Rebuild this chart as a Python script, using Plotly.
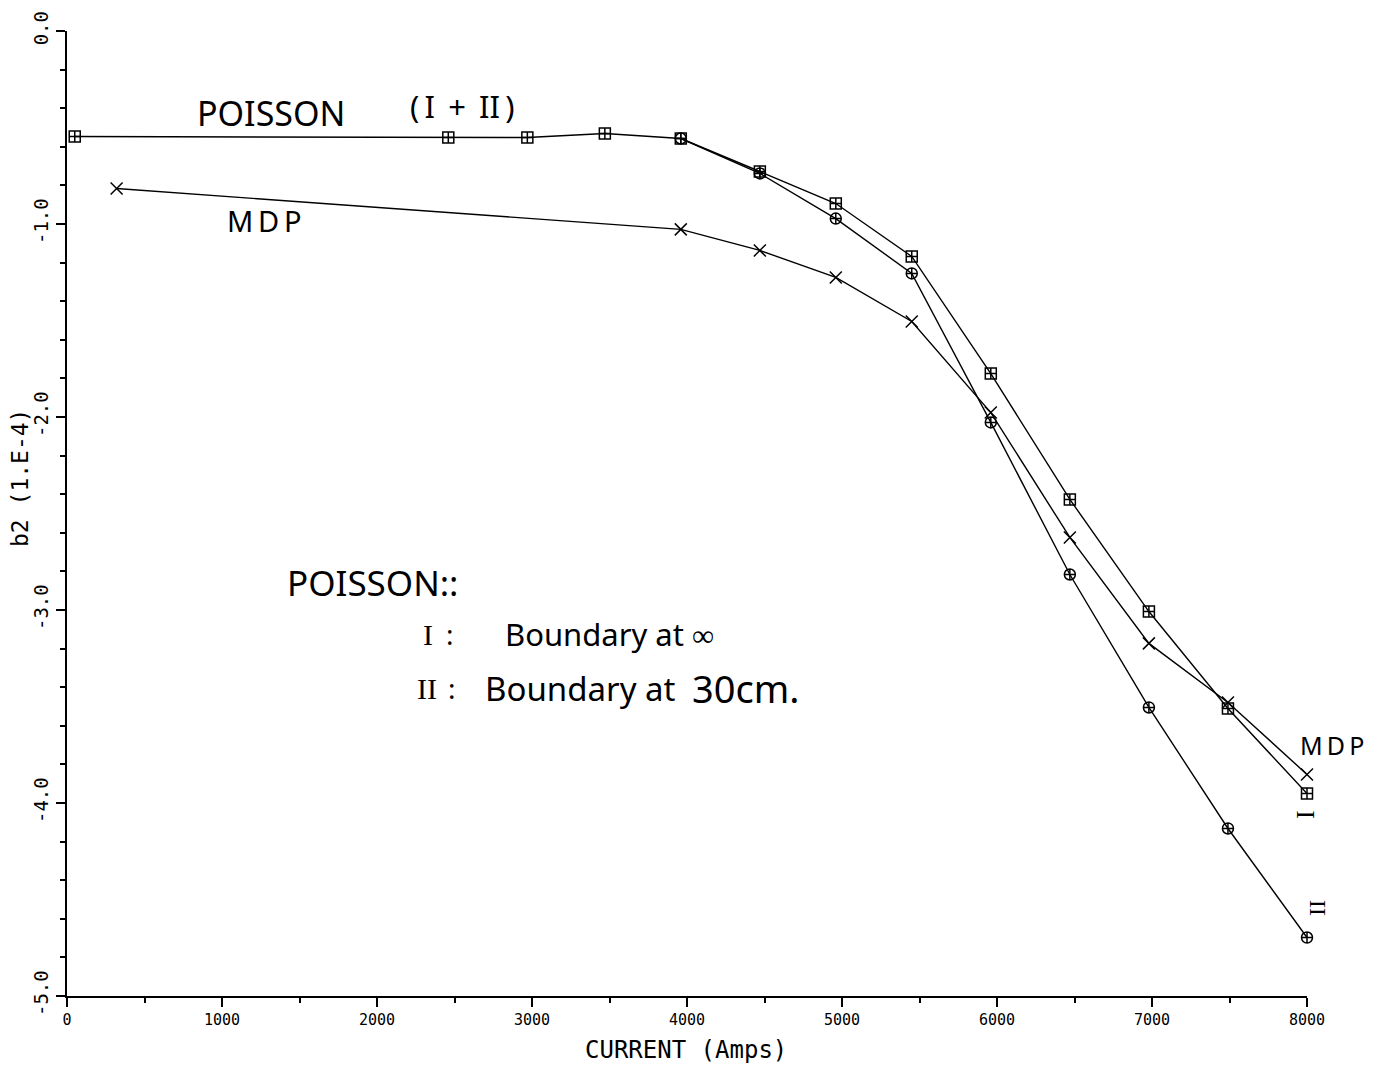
import plotly.graph_objects as go

# ---- data ----
current_I = [50, 2460, 2970, 3470, 3960, 4470, 4960, 5450, 5960, 6470, 6980, 7490, 8000]
poisson_I = [-0.547, -0.552, -0.552, -0.531, -0.557, -0.728, -0.894, -1.168, -1.775, -2.427, -3.008, -3.510, -3.951]

current_II = [3960, 4470, 4960, 5450, 5960, 6470, 6980, 7490, 8000]
poisson_II = [-0.557, -0.738, -0.972, -1.256, -2.028, -2.816, -3.505, -4.132, -4.697]

current_mdp = [320, 3960, 4470, 4960, 5450, 5960, 6470, 6980, 7490, 8000]
mdp = [-0.816, -1.028, -1.137, -1.277, -1.505, -1.977, -2.624, -3.173, -3.479, -3.852]

x_ticks = [0, 1000, 2000, 3000, 4000, 5000, 6000, 7000, 8000]
y_ticks = [0.0, -1.0, -2.0, -3.0, -4.0, -5.0]
y_tick_text = ["0.0", "-1.0", "-2.0", "-3.0", "-4.0", "-5.0"]

PLOT_FONT = "DejaVu Sans Mono"
HAND_FONT = "Noto Sans"
line_style = dict(color="black", width=1.4)

W, H = 1380, 1066
PW, PH = 1240, 965           # plot area size
SL, ST = 67, 31              # plot area top-left as seen on screen
OFF = 8                      # page body offset
L, T = SL - OFF, ST - OFF
R, B = W - L - PW, H - T - PH


def px_to_paper(px, py):
    return (px - SL) / PW, 1 - (py - ST) / PH


fig = go.Figure()
fig.add_trace(go.Scatter(
    x=current_I, y=poisson_I, mode="lines+markers", line=line_style, cliponaxis=False,
    marker=dict(symbol="square-cross-open", size=11, color="black", line=dict(width=1.5)),
    name="POISSON I"))
fig.add_trace(go.Scatter(
    x=current_II, y=poisson_II, mode="lines+markers", line=line_style, cliponaxis=False,
    marker=dict(symbol="circle-cross-open", size=11, color="black", line=dict(width=1.5)),
    name="POISSON II"))
fig.add_trace(go.Scatter(
    x=current_mdp, y=mdp, mode="lines+markers", line=line_style, cliponaxis=False,
    marker=dict(symbol="x-thin-open", size=12, color="black", line=dict(width=1.5)),
    name="MDP"))


def hf(size, family=HAND_FONT):
    return dict(family=family, size=size, color="black")


TS = "\u2009"  # thin space (handwritten letter spacing)
annots = [
    dict(px=195, py=113, text="POISSON", xanchor="left", font=hf(34)),
    dict(px=408, py=106, text="(" + TS + "I" + TS + " + " + TS + "II" + TS + ")", xanchor="left", font=hf(31)),
    dict(px=225, py=220, text="M" + TS + "D" + TS + "P", xanchor="left", font=hf(29)),
    dict(px=285, py=582, text="POISSON::", xanchor="left", font=hf(35)),
    dict(px=428, py=634, text="I", font=hf(30, "Liberation Serif")),
    dict(px=450, py=634, text=":", font=hf(28)),
    dict(px=503, py=634, text="Boundary at ∞", xanchor="left", font=hf(31)),
    dict(px=427, py=688, text="II", font=hf(30, "Liberation Serif")),
    dict(px=452, py=688, text=":", font=hf(28)),
    dict(px=483, py=688, text="Boundary at", xanchor="left", font=hf(33)),
    dict(px=690, py=688, text="30cm.", xanchor="left", font=hf(38)),
    dict(px=1298, py=745, text="M" + TS + "D" + TS + "P", xanchor="left", font=hf(25)),
    dict(px=1305, py=815, text="I", font=hf(26, "Liberation Serif"), textangle=-90),
    dict(px=1317, py=908, text="II", font=hf(24, "Liberation Serif"), textangle=-90),
    # axis titles
    dict(px=20, py=478, text="b2 (1.E-4)", textangle=-90, font=hf(23, PLOT_FONT)),
    dict(px=686, py=1050, text="CURRENT (Amps)", font=hf(24, PLOT_FONT)),
]
for a in annots:
    a = dict(a)
    x, y = px_to_paper(a.pop("px"), a.pop("py"))
    a.setdefault("xanchor", "center")
    fig.add_annotation(xref="paper", yref="paper", x=x, y=y, showarrow=False,
                       yanchor="middle", **a)

fig.update_layout(
    width=W, height=H,
    margin=dict(l=L, r=R, t=T, b=B, autoexpand=False),
    paper_bgcolor="white", plot_bgcolor="white",
    showlegend=False,
    font=dict(family=PLOT_FONT, color="black"),
    xaxis=dict(
        range=[0, 8000], tickvals=x_ticks, ticktext=[str(v) for v in x_ticks],
        showgrid=False, zeroline=False, showline=True, linecolor="black", linewidth=2,
        ticks="outside", ticklen=9, tickwidth=2, tickcolor="black", automargin=False,
        minor=dict(dtick=500, tick0=0, ticks="outside", ticklen=5, tickwidth=1.5, tickcolor="black"),
        tickfont=dict(family=PLOT_FONT, size=15, color="black"),
    ),
    yaxis=dict(
        range=[-5, 0], tickvals=y_ticks, ticktext=y_tick_text, tickangle=-90,
        showgrid=False, zeroline=False, showline=True, linecolor="black", linewidth=2,
        ticks="outside", ticklen=9, tickwidth=2, tickcolor="black", automargin=False,
        minor=dict(dtick=0.2, tick0=0, ticks="outside", ticklen=5, tickwidth=1.5, tickcolor="black"),
        tickfont=dict(family=PLOT_FONT, size=19, color="black"),
    ),
)

fig.write_html("out.html")
